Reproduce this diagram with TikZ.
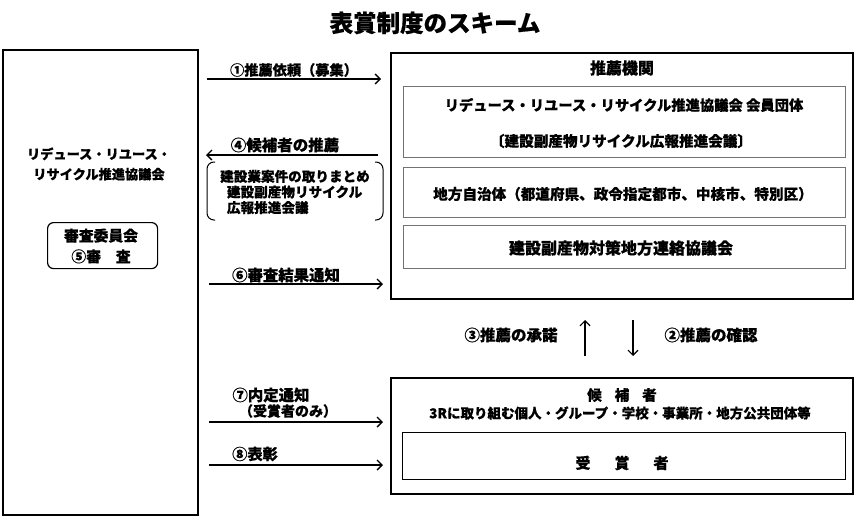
\documentclass[tikz,border=0pt]{standalone}
\usepackage{fontspec}
\setmainfont{Noto Sans CJK JP}[BoldFeatures={FakeBold=0.5}]
\usetikzlibrary{arrows.meta}
\newcommand{\fsz}[1]{\fontsize{#1}{#1}\selectfont\bfseries}
\begin{document}
\begin{tikzpicture}[x=1pt,y=-1pt,
  txt/.style={font=\fsz{13.5}, inner sep=0pt, align=center},
  outerbox/.style={draw, line width=1.8pt, anchor=north west, inner sep=0pt},
  graybox/.style={draw=black!55, line width=0.8pt, anchor=north west, inner sep=0pt},
  blackbox/.style={draw, line width=1.2pt, anchor=north west, inner sep=0pt},
  rbox/.style={draw, line width=1.2pt, rounded corners=6pt, anchor=north west, inner sep=0pt},
  arr/.style={line width=1.4pt, -{Straight Barb[length=5pt,width=10pt,line width=1.4pt]}},
  varr/.style={line width=1.2pt, -{Straight Barb[length=5pt,width=10pt,line width=1.2pt]}}
]
\useasboundingbox (0,0) rectangle (855,517);

% title
\node[txt, font=\fsz{23.5}] (title) at (435,23) {表賞制度のスキーム};

% left box
\node[outerbox, minimum width=195pt, minimum height=465pt] (left) at (2,49) {};
\node[txt, font=\fsz{13.2}] (lefttxt) at (99,164) {リデュース・リユース・\\[7pt]リサイクル推進協議会};
\node[rbox, minimum width=110pt, minimum height=46pt] (shinsa) at (47,222) {};
\node[txt, font=\fsz{14.8}] (shinsatxt) at (101,246) {審査委員会\\[6pt]⑤審\hspace{1em}査};

% right top box
\node[outerbox, minimum width=462pt, minimum height=246pt] (suisen) at (390,52) {};
\node[txt, font=\fsz{16}] (suisentxt) at (622,68) {推薦機関};
\node[graybox, minimum width=442pt, minimum height=71pt] (in1) at (403,86) {};
\node[txt, font=\fsz{14.3}] (in1a) at (624,105) {リデュース・リユース・リサイクル推進協議会 会員団体};
\node[txt, font=\fsz{14.6}] (in1b) at (621,141) {〔建設副産物リサイクル広報推進会議〕};
\node[graybox, minimum width=442pt, minimum height=50pt] (in2) at (403,167) {};
\node[txt, font=\fsz{14.6}] (in2t) at (623,194) {地方自治体（都道府県、政令指定都市、中核市、特別区）};
\node[graybox, minimum width=442pt, minimum height=43pt] (in3) at (403,225) {};
\node[txt, font=\fsz{16}] (in3t) at (621,248) {建設副産物対策地方連絡協議会};

% bottom box
\node[outerbox, minimum width=462pt, minimum height=116pt] (kouho) at (390,377) {};
\node[txt, font=\fsz{14.5}] (kouhot) at (622,395) {候\hspace{0.9em}補\hspace{0.9em}者};
\node[txt, font=\fsz{13.5}] (kouho2) at (620,413) {3Rに取り組む個人・グループ・学校・事業所・地方公共団体等};
\node[blackbox, minimum width=443pt, minimum height=47pt] (jusho) at (402,432) {};
\node[txt, font=\fsz{15}] (jushot) at (622,463) {受\hspace{1.6em}賞\hspace{1.6em}者};

% horizontal arrows
\coordinate (a1s) at (207,79); \coordinate (a1e) at (381,79);
\draw[arr] (a1s) -- (a1e);
\node[txt, font=\fsz{14.2}] (l1) at (294,70) {①推薦依頼（募集）};

\coordinate (a4s) at (378,155); \coordinate (a4e) at (206,155);
\draw[arr] (a4s) -- (a4e);
\node[txt, font=\fsz{15.5}] (l4) at (285,145) {④候補者の推薦};

\draw[line width=1pt, rounded corners=7pt] (215,162) -- (207,162) -- (207,220) -- (215,220);
\draw[line width=1pt, rounded corners=7pt] (375,162) -- (383,162) -- (383,220) -- (375,220);
\node[txt, font=\fsz{13.6}, align=left] (bracket) at (295,192) {建設業案件の取りまとめ\\[2pt]\hspace{0.5em}建設副産物リサイクル\\[2pt]\hspace{0.5em}広報推進会議};

\coordinate (a6s) at (209,284); \coordinate (a6e) at (383,284);
\draw[arr] (a6s) -- (a6e);
\node[txt, font=\fsz{15.4}] (l6) at (286,275) {⑥審査結果通知};

\coordinate (a7s) at (209,422); \coordinate (a7e) at (383,422);
\draw[arr] (a7s) -- (a7e);
\node[txt, font=\fsz{15.4}] (l7a) at (271,395) {⑦内定通知};
\node[txt, font=\fsz{14}] (l7b) at (288,411) {（受賞者のみ）};

\coordinate (a8s) at (209,465); \coordinate (a8e) at (383,465);
\draw[arr] (a8s) -- (a8e);
\node[txt, font=\fsz{15.2}] (l8) at (255,454) {⑧表彰};

% vertical arrows
\coordinate (up1) at (585,356); \coordinate (up2) at (585,320);
\draw[varr] (up1) -- (up2);
\coordinate (dn1) at (633,320); \coordinate (dn2) at (633,356);
\draw[varr] (dn1) -- (dn2);
\node[txt, font=\fsz{15.5}] (l3) at (511,335) {③推薦の承諾};
\node[txt, font=\fsz{15.5}] (l2) at (711,335) {②推薦の確認};
\end{tikzpicture}
\end{document}
